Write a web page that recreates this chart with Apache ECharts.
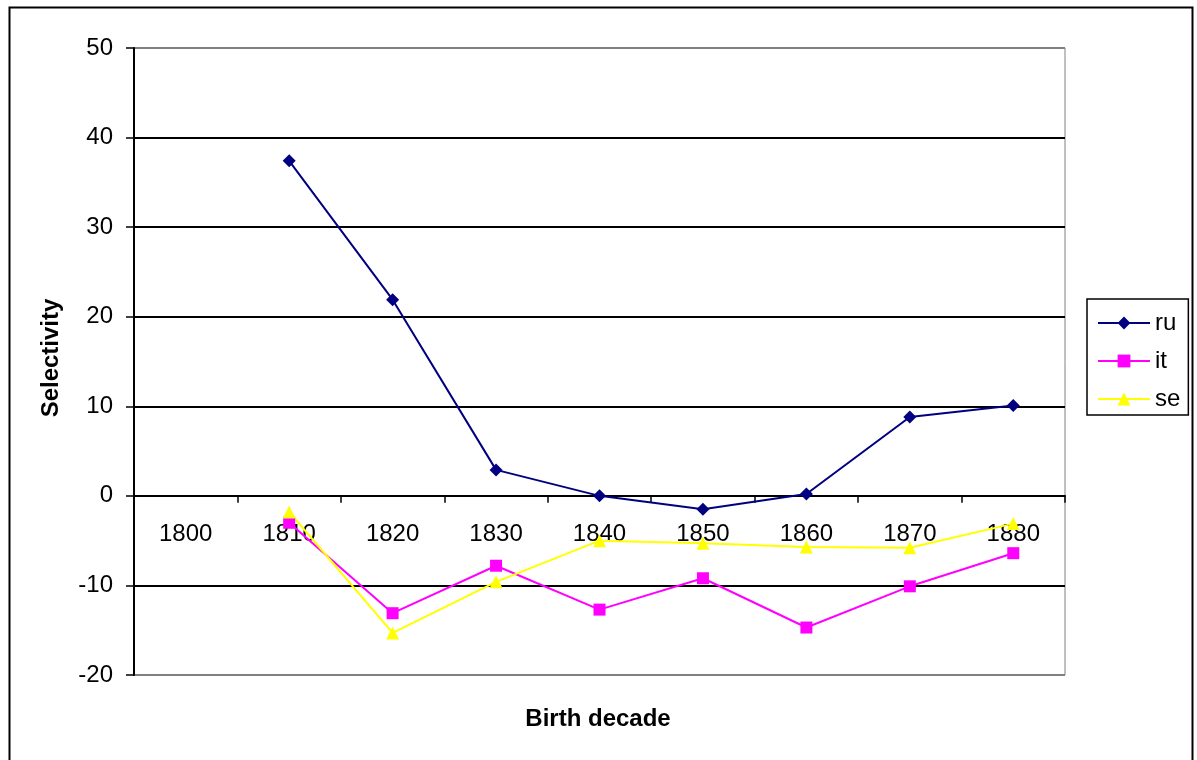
<!DOCTYPE html>
<html>
<head>
<meta charset="utf-8">
<script src="https://cdn.jsdelivr.net/npm/echarts@6/dist/echarts.min.js"></script>
<style>
  html, body { margin: 0; padding: 0; background: #ffffff; }
  #chart { width: 1197px; height: 760px; }
</style>
</head>
<body>
<div id="chart"></div>
<script>
// Birth decades on the category axis
const decades = ['1800', '1810', '1820', '1830', '1840', '1850', '1860', '1870', '1880'];

// Selectivity per decade (no value for 1800)
const ru = [null, 37.4, 21.9, 2.9, 0.0, -1.5, 0.2, 8.8, 10.1];
const it = [null, -3.0, -13.1, -7.8, -12.7, -9.2, -14.7, -10.1, -6.4];
const se = [null, -1.8, -15.3, -9.6, -5.0, -5.3, -5.7, -5.8, -3.1];

// Value axis range and step
const yMin = -20;
const yMax = 50;
const yStep = 10;

const font = 'Arial, "Liberation Sans", sans-serif';

const chart = echarts.init(document.getElementById('chart'), null, { renderer: 'canvas' });

// Edge gridlines are grey, interior ones black
const gridColors = [];
for (let v = yMin; v <= yMax; v += yStep) {
  gridColors.push(v === yMin || v === yMax ? '#808080' : '#000000');
}

chart.setOption({
  backgroundColor: '#ffffff',
  animation: false,
  grid: {
    left: 134, right: 132, top: 48, bottom: 85,
    show: true, borderColor: '#808080', borderWidth: 1, backgroundColor: '#ffffff'
  },
  xAxis: {
    type: 'category',
    data: decades,
    boundaryGap: true,
    axisLine: { onZero: true, lineStyle: { color: '#000000', width: 2 } },
    axisTick: { show: true, length: 7, lineStyle: { color: '#000000', width: 1.5 } },
    // labels sit just under the zero line
    axisLabel: { color: '#000000', fontFamily: font, fontSize: 24, margin: -153 },
    splitLine: { show: false }
  },
  yAxis: {
    type: 'value',
    min: yMin, max: yMax, interval: yStep,
    axisLine: { show: true, onZero: false, lineStyle: { color: '#000000', width: 2 } },
    axisTick: { show: true, length: 8, lineStyle: { color: '#000000', width: 1.5 } },
    axisLabel: { color: '#000000', fontFamily: font, fontSize: 24, margin: 21 },
    splitLine: { show: true, lineStyle: { color: gridColors, width: 2 } }
  },
  legend: {
    orient: 'vertical',
    left: 1087, top: 299,
    padding: [12, 8, 4, 10],
    itemGap: 14,
    itemWidth: 52,
    itemHeight: 16,
    borderColor: '#000000',
    borderWidth: 1.5,
    backgroundColor: '#ffffff',
    textStyle: { color: '#000000', fontFamily: font, fontSize: 24 },
    data: ['ru', 'it', 'se']
  },
  graphic: [
    {
      type: 'rect',
      left: 7, top: 5,
      shape: { width: 1183, height: 800 },
      style: { fill: 'none', stroke: '#000000', lineWidth: 2 },
      silent: true
    },
    {
      type: 'text',
      x: 598, y: 719,
      style: {
        text: 'Birth decade', fill: '#000000', font: 'bold 24px ' + font,
        textAlign: 'center', textVerticalAlign: 'middle'
      }
    },
    {
      type: 'text',
      x: 51, y: 358,
      rotation: Math.PI / 2,
      style: {
        text: 'Selectivity', fill: '#000000', font: 'bold 24px ' + font,
        textAlign: 'center', textVerticalAlign: 'middle'
      }
    }
  ],
  series: [
    {
      name: 'ru', type: 'line', data: ru,
      symbol: 'diamond', symbolSize: 13,
      lineStyle: { color: '#000080', width: 2 },
      itemStyle: { color: '#000080' }
    },
    {
      name: 'it', type: 'line', data: it,
      symbol: 'rect', symbolSize: 12,
      lineStyle: { color: '#FF00FF', width: 2 },
      itemStyle: { color: '#FF00FF' }
    },
    {
      name: 'se', type: 'line', data: se,
      symbol: 'triangle', symbolSize: 13,
      lineStyle: { color: '#FFFF00', width: 2 },
      itemStyle: { color: '#FFFF00' }
    }
  ]
});
</script>
</body>
</html>
